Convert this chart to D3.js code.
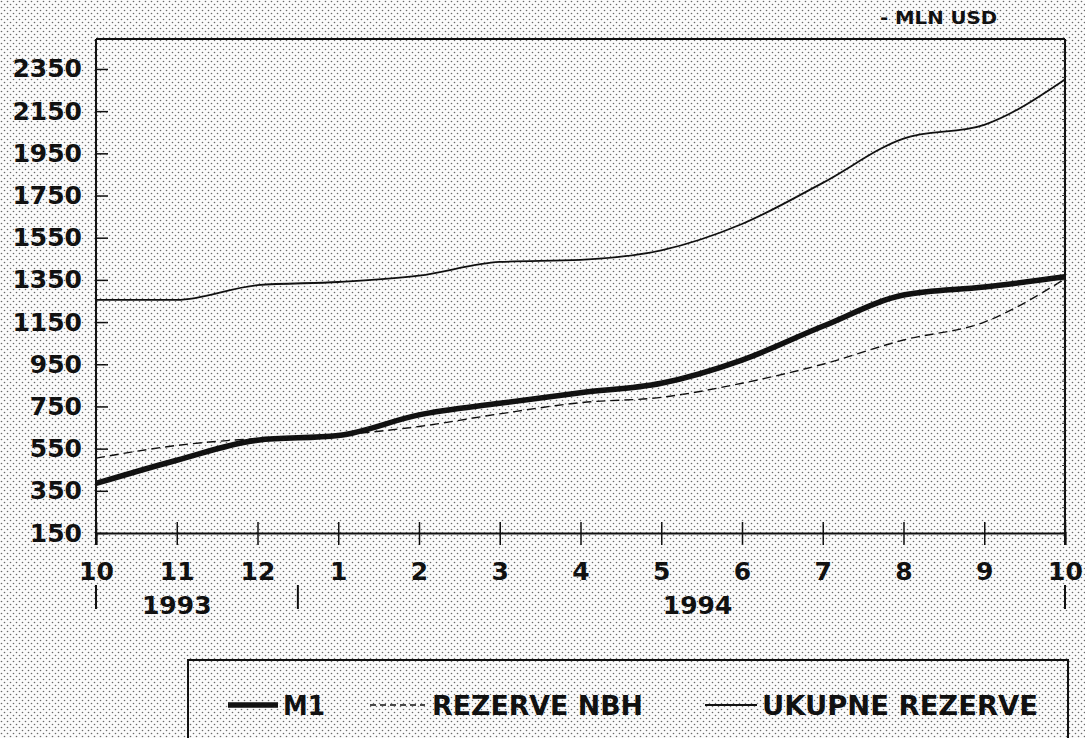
<!DOCTYPE html>
<html>
<head>
<meta charset="utf-8">
<script src="https://cdn.jsdelivr.net/npm/d3@7"></script>
<style>
  body { margin: 0; background: #fff; }
  text { font-family: "DejaVu Sans", sans-serif; font-weight: bold; fill: #111; }
</style>
</head>
<body>
<div id="chart"></div>
<script>
// Data (MLN USD, end of month)
var months = ["10", "11", "12", "1", "2", "3", "4", "5", "6", "7", "8", "9", "10"];
var m1 = [385, 495, 590, 612, 710, 765, 815, 860, 970, 1130, 1278, 1316, 1365];
var rezerveNbh = [505, 565, 598, 615, 655, 715, 768, 793, 860, 950, 1065, 1150, 1355];
var ukupneRezerve = [1255, 1255, 1325, 1340, 1370, 1435, 1445, 1490, 1615, 1810, 2020, 2085, 2300];
var yTicks = [150, 350, 550, 750, 950, 1150, 1350, 1550, 1750, 1950, 2150, 2350];
var years = ["1993", "1994"];
var yearBreaks = [0, 2.5, 12];
var yearCenters = [1, 7.45];
var legendLabels = ["M1", "REZERVE NBH", "UKUPNE REZERVE"];

var width = 1085;
var height = 738;
var margin = { top: 39, right: 20, bottom: 205, left: 96 };

var svg = d3.select("#chart")
    .append("svg")
    .attr("width", width)
    .attr("height", height);

// halftone dot background
var pat = svg.append("defs").append("pattern")
    .attr("id", "dots")
    .attr("width", 6)
    .attr("height", 6)
    .attr("patternUnits", "userSpaceOnUse");
pat.append("rect").attr("width", 6).attr("height", 6).attr("fill", "#fbfbfb");
pat.append("circle").attr("cx", 1.5).attr("cy", 1.5).attr("r", 0.8).attr("fill", "#6a6a6a");
pat.append("circle").attr("cx", 4.5).attr("cy", 4.5).attr("r", 0.8).attr("fill", "#6a6a6a");

svg.append("rect")
    .attr("width", width)
    .attr("height", height)
    .attr("fill", "url(#dots)");

// scales
var xScale = d3.scaleLinear()
    .domain([0, months.length - 1])
    .range([margin.left, 1065]);

var yScale = d3.scaleLinear()
    .domain([150, 2492])
    .range([533, margin.top]);

// frame
svg.append("line")
    .attr("x1", xScale(0)).attr("x2", xScale(12))
    .attr("y1", yScale(2492)).attr("y2", yScale(2492))
    .attr("stroke", "#111").attr("stroke-width", 2);
svg.append("line")
    .attr("x1", xScale(0)).attr("x2", xScale(0))
    .attr("y1", yScale(2492)).attr("y2", 545)
    .attr("stroke", "#111").attr("stroke-width", 2);
svg.append("line")
    .attr("x1", xScale(12)).attr("x2", xScale(12))
    .attr("y1", yScale(2492)).attr("y2", 545)
    .attr("stroke", "#111").attr("stroke-width", 2);

// y axis, ticks pointing inward
var yAxis = svg.append("g")
    .attr("transform", "translate(" + margin.left + ",0)")
    .call(d3.axisLeft(yScale).tickValues(yTicks).tickFormat(d3.format("d")).tickSize(-12).tickPadding(14));
yAxis.select(".domain").remove();
yAxis.selectAll(".tick line").attr("stroke", "#111").attr("stroke-width", 1.5);
yAxis.selectAll(".tick text")
    .style("font-size", "25px")
    .style("font-family", "DejaVu Sans")
    .style("font-weight", "bold")
    .attr("fill", "#111");

// small minor ticks on the right border
svg.append("g").selectAll("line")
    .data(d3.range(150, 2492, 40))
    .enter().append("line")
    .attr("x1", xScale(12) - 3).attr("x2", xScale(12))
    .attr("y1", d => yScale(d)).attr("y2", d => yScale(d))
    .attr("stroke", "#333").attr("stroke-width", 1);

// x axis
var xAxis = svg.append("g")
    .attr("transform", "translate(0," + yScale(150) + ")")
    .call(d3.axisBottom(xScale).ticks(12).tickSize(12).tickFormat((d, i) => months[i]));
xAxis.select(".domain").attr("stroke", "#111").attr("stroke-width", 2);
xAxis.selectAll(".tick line").attr("y1", -11).attr("stroke", "#111").attr("stroke-width", 1.5);
xAxis.selectAll(".tick text")
    .attr("y", 29)
    .style("font-size", "25px")
    .style("font-family", "DejaVu Sans")
    .style("font-weight", "bold")
    .attr("fill", "#111");

// year separators and labels
svg.append("g").selectAll("line")
    .data(yearBreaks)
    .enter().append("line")
    .attr("x1", d => xScale(d)).attr("x2", d => xScale(d))
    .attr("y1", 585).attr("y2", 609)
    .attr("stroke", "#111").attr("stroke-width", 2);

svg.append("g").selectAll("text")
    .data(years)
    .enter().append("text")
    .attr("x", (d, i) => xScale(yearCenters[i]))
    .attr("y", 614)
    .style("text-anchor", "middle")
    .style("font-size", "25px")
    .text(d => d);

// unit
svg.append("text")
    .attr("x", 880)
    .attr("y", 24)
    .attr("textLength", 117)
    .attr("lengthAdjust", "spacingAndGlyphs")
    .style("font-size", "17px")
    .text("- MLN USD");

// lines
var line = d3.line()
    .x((d, i) => xScale(i))
    .y(d => yScale(d))
    .curve(d3.curveMonotoneX);

svg.append("path")
    .datum(ukupneRezerve)
    .attr("d", line)
    .attr("fill", "none")
    .attr("stroke", "#111")
    .attr("stroke-width", 1.8);

svg.append("path")
    .datum(rezerveNbh)
    .attr("d", line)
    .attr("fill", "none")
    .attr("stroke", "#111")
    .attr("stroke-width", 1.4)
    .attr("stroke-dasharray", "9,5");

svg.append("path")
    .datum(m1)
    .attr("d", line)
    .attr("fill", "none")
    .attr("stroke", "#111")
    .attr("stroke-width", 5.5);

// legend
var legend = svg.append("g").attr("class", "legend");

legend.append("rect")
    .attr("x", 188)
    .attr("y", 660)
    .attr("width", 880)
    .attr("height", 120)
    .attr("fill", "none")
    .attr("stroke", "#111")
    .attr("stroke-width", 2);

var legendStyles = [
    { x1: 228, x2: 278, w: 5.5, dash: null, tx: 283, tl: 42 },
    { x1: 370, x2: 425, w: 1.4, dash: "6,4", tx: 432, tl: 211 },
    { x1: 705, x2: 757, w: 1.8, dash: null, tx: 762, tl: 276 }
];

legendLabels.forEach(function(label, i) {
    var s = legendStyles[i];
    legend.append("line")
        .attr("x1", s.x1).attr("x2", s.x2)
        .attr("y1", 705).attr("y2", 705)
        .attr("stroke", "#111")
        .attr("stroke-width", s.w)
        .attr("stroke-dasharray", s.dash);
    legend.append("text")
        .attr("x", s.tx)
        .attr("y", 715)
        .attr("textLength", s.tl)
        .attr("lengthAdjust", "spacingAndGlyphs")
        .style("font-size", "27px")
        .text(label);
});
</script>
</body>
</html>
